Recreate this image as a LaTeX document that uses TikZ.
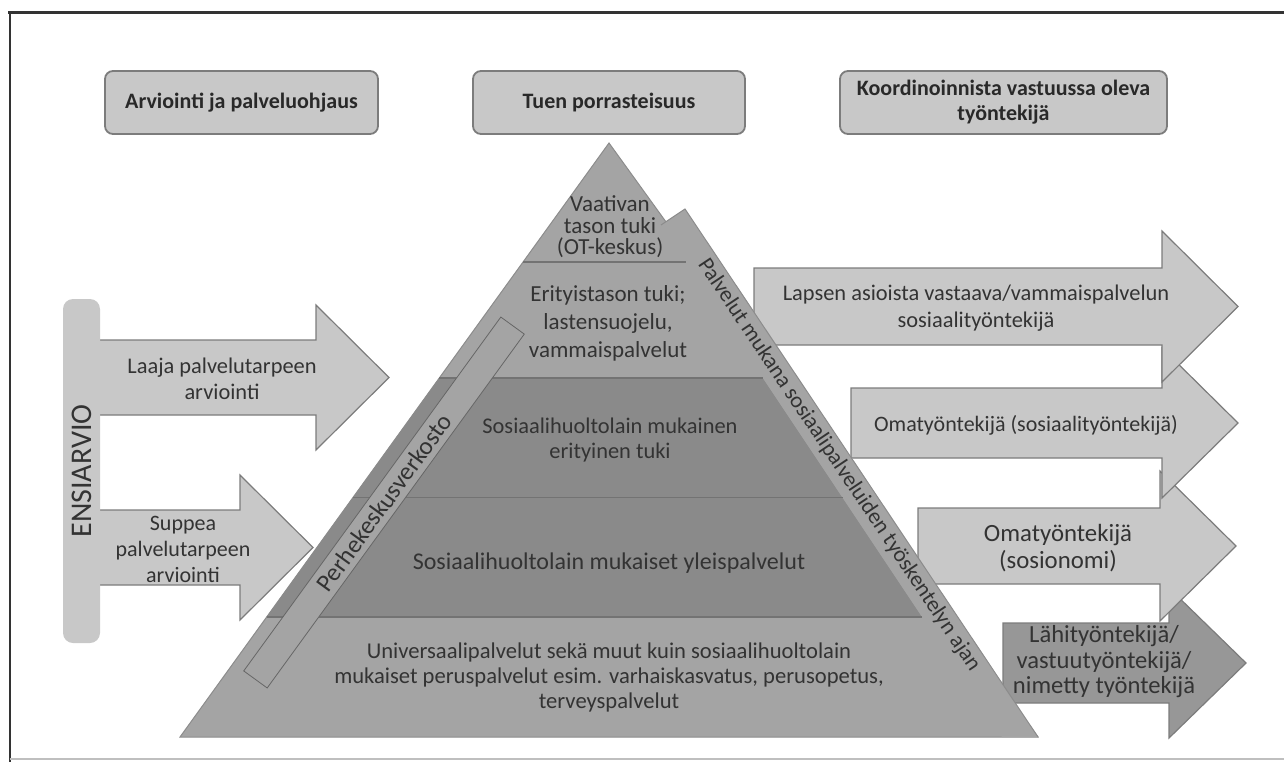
\documentclass[tikz,border=0pt]{standalone}
\usepackage{fontspec}
\setmainfont{Carlito}
\definecolor{lite}{HTML}{C8C8C8}
\definecolor{mid}{HTML}{A4A4A4}
\definecolor{dark}{HTML}{8A8A8A}
\definecolor{deep}{HTML}{979797}
\definecolor{edge}{HTML}{7C7C7C}
\definecolor{ink}{HTML}{333333}
\tikzset{
    TB/.style ={rectangle, rounded corners=4pt, draw=edge, fill=lite, line width=0.9pt, minimum height=31.5pt, align=center, text=ink!80!black, font=\bfseries\fontsize{11}{12.5}\selectfont},
    BA/.style ={fill=lite, draw=edge, line width=0.6pt},
    TX/.style ={align=center, text=ink, font=\fontsize{11}{13}\selectfont},
    LN/.style ={draw=black!55, line width=0.7pt}}

\begin{document}
\begin{tikzpicture}[x=0.5pt,y=-0.5pt]
        \useasboundingbox (0,0) rectangle (1284,762);
        % frame
        \draw[ink, line width=1.5pt] (8,12) -- (1284,12);
        \draw[ink, line width=1pt] (9.5,12) -- (9.5,762);
        \draw[black!25, line width=1pt] (9.5,759) -- (1284,759);
        % headers
        \node[TB, minimum width=136.5pt] (arv) at (241.5,102.5) {Arviointi ja palveluohjaus};
        \node[TB, minimum width=136pt] (tuen) at (609,102.5) {Tuen porrasteisuus};
        \node[TB, minimum width=163.5pt] (koord) at (1003.5,102.5) {Koordinoinnista vastuussa oleva\\työntekijä};
        % left arrows
        \draw[BA] (90,340) -- (316,340) -- (316,305) -- (389,377.5) -- (316,450) -- (316,415) -- (90,415) -- cycle;
        \draw[BA] (90,510) -- (240,510) -- (240,475) -- (313,547.5) -- (240,620) -- (240,585) -- (90,585) -- cycle;
        \node[TX, font=\fontsize{11.2}{13}\selectfont] (laaja) at (222,379) {Laaja palvelutarpeen\\arviointi};
        \node[TX] (suppea) at (183,549) {Suppea\\palvelutarpeen\\arviointi};
        \node[rectangle, rounded corners=5pt, fill=lite, rotate=90, minimum width=172pt, minimum height=18.5pt, text=ink, font=\fontsize{15}{16}\selectfont] (ens) at (81.5,471) {ENSIARVIO};
        % right arrows
        \draw[BA, fill=deep] (1003,623) -- (1169,623) -- (1169,588) -- (1246,663) -- (1169,738) -- (1169,703) -- (1003,703) -- cycle;
        \draw[BA] (918,508) -- (1160,508) -- (1160,471) -- (1236,546) -- (1160,621) -- (1160,584) -- (918,584) -- cycle;
        \draw[BA] (851,388) -- (1162,388) -- (1162,348) -- (1238,423) -- (1162,498) -- (1162,458) -- (851,458) -- cycle;
        \draw[BA] (754,268) -- (1162,268) -- (1162,231) -- (1238,306.5) -- (1162,382) -- (1162,345) -- (754,345) -- cycle;
        \node[TX, font=\fontsize{11.2}{13.5}\selectfont] (lapsen) at (976,308.5) {Lapsen asioista vastaava/vammaispalvelun\\sosiaalityöntekijä};
        \node[TX] (oma1) at (1026,425) {Omatyöntekijä (sosiaalityöntekijä)};
        \node[TX, font=\fontsize{12.4}{13.5}\selectfont] (oma2) at (1058,548.5) {Omatyöntekijä\\(sosionomi)};
        \node[TX, font=\fontsize{12.3}{12.75}\selectfont] (lahi) at (1104,662) {Lähityöntekijä/\\vastuutyöntekijä/\\nimetty työntekijä};
        % pyramid
        \filldraw[fill=mid, draw=black!45, line width=0.5pt] (609,143) -- (1038,737) -- (180,737) -- cycle;
        \fill[dark] (439.3,378) -- (762.9,378) -- (922.1,617) -- (266.7,617) -- cycle;
        \fill[mid] (685,209) -- (1038,737) -- (1002,737) -- (661,225) -- cycle;
        \draw[black!45, line width=0.5pt] (661,225) -- (685,209) -- (1038,737);
        \draw[LN] (523.1,262) -- (685.6,262);
        \draw[LN] (439.3,378) -- (762.9,378);
        \draw[LN] (353,497.5) -- (842.5,497.5);
        \draw[LN] (266.7,617) -- (922.1,617);
        \node[draw=black!60, fill=mid, rotate=54, minimum width=218.7pt, minimum height=14.5pt, inner sep=0pt, text=ink, font=\fontsize{12.5}{13}\selectfont] (perhe) at (384,502.5) {Perhekeskusverkosto};
        \node[TX, rotate=-56.2, font=\fontsize{11.2}{12}\selectfont] (palv) at (839,465) {Palvelut mukana sosiaalipalveluiden työskentelyn ajan};
        \node[TX, font=\fontsize{11.5}{10.75}\selectfont] (vaat) at (610,227) {Vaativan\\tason tuki\\(OT-keskus)};
        \node[TX, font=\fontsize{11.5}{14}\selectfont] (erit) at (608,323) {Erityistason tuki;\\lastensuojelu,\\vammaispalvelut};
        \node[TX, font=\fontsize{11.2}{12.5}\selectfont] (shl1) at (610,440) {Sosiaalihuoltolain mukainen\\erityinen tuki};
        \node[TX, font=\fontsize{12}{13}\selectfont] (shl2) at (609,563) {Sosiaalihuoltolain mukaiset yleispalvelut};
        \node[TX, font=\fontsize{11.3}{12.5}\selectfont] (univ) at (609,677) {Universaalipalvelut sekä muut kuin sosiaalihuoltolain\\mukaiset peruspalvelut esim. varhaiskasvatus, perusopetus,\\terveyspalvelut};
\end{tikzpicture}
\end{document}
